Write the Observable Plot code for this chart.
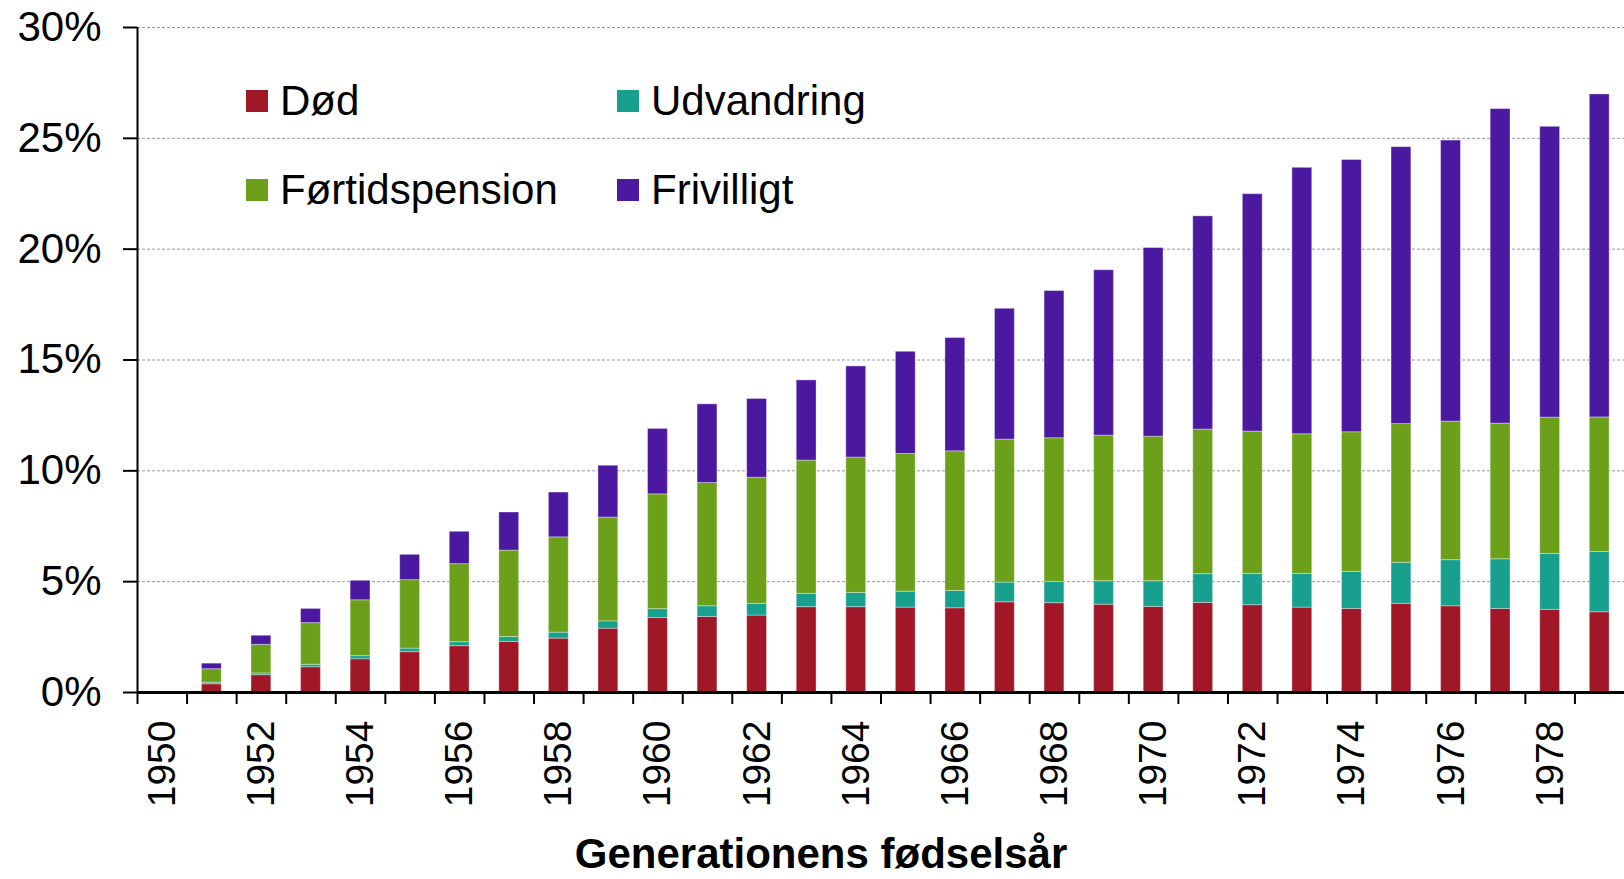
<!DOCTYPE html>
<html><head><meta charset="utf-8">
<script src="https://cdn.jsdelivr.net/npm/d3@7"></script>
<script src="https://cdn.jsdelivr.net/npm/@observablehq/plot@0.6"></script>
<style>
html,body{margin:0;padding:0;background:#fff;}
#wrap{position:relative;width:1624px;height:879px;overflow:hidden;font-family:"Liberation Sans",Arial,sans-serif;}
.item{position:absolute;display:flex;align-items:center;font-size:42px;line-height:42px;color:#000;white-space:nowrap;}
.sw{width:22px;height:22px;margin-right:12px;flex:none;}
</style></head><body><div id="wrap"></div>
<script>
const years = d3.range(1950, 1980);
const causes = ["Død", "Udvandring", "Førtidspension", "Frivilligt"];
const colors = ["#A01828", "#18A08F", "#6CA01B", "#4B18A0"];
// values in percent, per birth year 1950..1979
const dod = [0, 0.37, 0.78, 1.14, 1.50, 1.82, 2.09, 2.28, 2.43, 2.88, 3.36, 3.41, 3.47, 3.85, 3.85, 3.83, 3.80, 4.07, 4.03, 3.96, 3.86, 4.04, 3.94, 3.83, 3.77, 4.00, 3.89, 3.77, 3.73, 3.62];
const udvandring = [0, 0.07, 0.08, 0.11, 0.14, 0.16, 0.18, 0.22, 0.27, 0.33, 0.40, 0.48, 0.53, 0.60, 0.64, 0.72, 0.78, 0.89, 0.96, 1.06, 1.16, 1.30, 1.41, 1.52, 1.67, 1.85, 2.08, 2.24, 2.52, 2.72];
const fortidspension = [0, 0.61, 1.29, 1.88, 2.52, 3.09, 3.52, 3.90, 4.30, 4.68, 5.18, 5.56, 5.69, 6.01, 6.11, 6.21, 6.30, 6.45, 6.48, 6.57, 6.52, 6.52, 6.42, 6.30, 6.30, 6.26, 6.25, 6.12, 6.15, 6.07];
const frivilligt = [0, 0.25, 0.41, 0.64, 0.88, 1.14, 1.46, 1.72, 2.02, 2.34, 2.95, 3.55, 3.55, 3.62, 4.11, 4.61, 5.11, 5.90, 6.64, 7.46, 8.51, 9.62, 10.71, 12.02, 12.28, 12.49, 12.68, 14.19, 13.12, 14.57];
const yTicks = [0, 5, 10, 15, 20, 25, 30];
const labelYears = d3.range(1950, 1980, 2);
const xTitle = "Generationens fødselsår";

const series = [dod, udvandring, fortidspension, frivilligt];
const rows = [];
years.forEach((yr, i) => {
  let base = 0;
  series.forEach((s, k) => {
    const v = s[i];
    if (v > 0) rows.push({year: yr, cause: causes[k], y1: base, y2: base + v});
    base += v;
  });
});
const boundaries = years.map(y => y - 0.5);

const chart = Plot.plot({
  width: 1624, height: 879,
  marginLeft: 137, marginRight: 0, marginTop: 27, marginBottom: 187,
  style: {fontFamily: "'Liberation Sans', Arial, sans-serif", background: "white", color: "black", overflow: "visible"},
  x: {domain: [1949.5, 1979.5]},
  y: {domain: [0, 30]},
  color: {domain: causes, range: colors},
  marks: [
    Plot.ruleY(yTicks.filter(t => t > 0), {y: d => d, stroke: "#9a9a9a", strokeDasharray: "3,2", strokeWidth: 1}),
    Plot.rect(rows, {x1: d => d.year - 0.2, x2: d => d.year + 0.2, y1: "y1", y2: "y2", fill: "cause", stroke: "white", strokeOpacity: 0.35, strokeWidth: 1}),
    Plot.axisY({ticks: yTicks, tickSize: 14, tickPadding: 22, tickFormat: d => d + "%", fontSize: 42, strokeWidth: 2, label: null}),
    Plot.axisX({ticks: boundaries, tickSize: 12, tickFormat: () => "", strokeWidth: 2, label: null}),
    Plot.axisX({ticks: labelYears, tickSize: 0, tickPadding: 28, tickRotate: -90, fontSize: 39, tickFormat: d => String(d), label: null}),
    Plot.ruleX([1949.5], {strokeWidth: 2}),
    Plot.ruleY([0], {strokeWidth: 3}),
    Plot.text([xTitle], {text: d => d, frameAnchor: "bottom", lineAnchor: "top", dy: 146, dx: -60, fontSize: 42, fontWeight: "bold"})
  ]
});
const wrap = document.getElementById("wrap");
wrap.appendChild(chart);

const legendPos = [[246, 80], [617, 80], [246, 169], [617, 169]];
causes.forEach((c, k) => {
  const it = document.createElement("div");
  it.className = "item";
  it.style.left = legendPos[k][0] + "px";
  it.style.top = legendPos[k][1] + "px";
  const sw = document.createElement("div");
  sw.className = "sw";
  sw.style.background = colors[k];
  const tx = document.createElement("span");
  tx.textContent = c;
  it.appendChild(sw); it.appendChild(tx);
  wrap.appendChild(it);
});
</script></body></html>
